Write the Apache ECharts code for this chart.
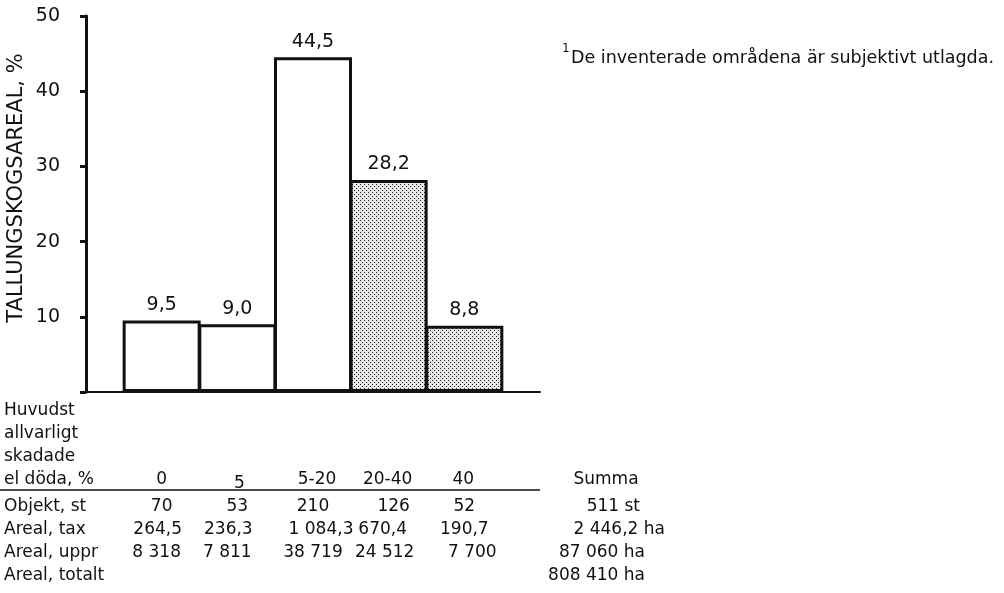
<!DOCTYPE html>
<html><head><meta charset="utf-8">
<script src="https://cdn.jsdelivr.net/npm/echarts/dist/echarts.min.js"></script>
<style>html,body{margin:0;padding:0;background:#fff}#c{width:1004px;height:593px}</style>
</head><body><div id="c"></div>
<script>
const categories = ['0', '5', '5-20', '20-40', '40'];
const shares = [9.5, 9.0, 44.5, 28.2, 8.8];
const shaded = [false, false, false, true, true];
const headerLines = ['Huvudst', 'allvarligt', 'skadade', 'el döda, %'];
const rowLabels = ['Objekt, st', 'Areal, tax', 'Areal, uppr', 'Areal, totalt'];
const objekt = ['70', '53', '210', '126', '52'];
const arealTax = ['264,5', '236,3', '1 084,3', '670,4', '190,7'];
const arealUppr = ['8 318', '7 811', '38 719', '24 512', '7 700'];
const summaTitle = 'Summa';
const summa = ['511 st', '2 446,2 ha', '87 060 ha', '808 410 ha'];
const yAxisTitle = 'TALLUNGSKOGSAREAL, %';
const footnoteMark = '1';
const footnote = 'De inventerade områdena är subjektivt utlagda.';

const FONT = 'DejaVu Sans';
const INK = '#111';

const pc = document.createElement('canvas');
pc.width = 4; pc.height = 4;
const g = pc.getContext('2d');
g.fillStyle = '#e8e8e8'; g.fillRect(0, 0, 4, 4);
g.fillStyle = '#1a1a1a'; g.fillRect(0, 0, 1, 1); g.fillRect(2, 2, 1, 1);
const patternFill = { image: pc, repeat: 'repeat' };

const chart = echarts.init(document.getElementById('c'));
chart.setOption({
  animation: false,
  backgroundColor: '#fff',
  grid: { left: 86, right: 464, top: 16, bottom: 201, containLabel: false },
  xAxis: {
    type: 'value', min: 0, max: categories.length + 1,
    axisLine: { show: true, lineStyle: { color: INK, width: 2 } },
    axisTick: { show: false }, axisLabel: { show: false }, splitLine: { show: false }
  },
  yAxis: {
    type: 'value', min: 0, max: 50, interval: 10,
    axisLine: { show: true, lineStyle: { color: INK, width: 3 } },
    axisTick: { show: true, inside: false, length: 6, lineStyle: { color: INK, width: 3 } },
    axisLabel: { margin: 26, color: INK, fontFamily: FONT, fontSize: 19, formatter: v => v === 0 ? '' : String(v) },
    splitLine: { show: false }
  },
  series: [{
    type: 'bar',
    barWidth: 78,
    data: shares.map((v, i) => ({
      value: [i + 1, v],
      itemStyle: { color: shaded[i] ? patternFill : '#fff', borderColor: INK, borderWidth: 3 }
    })),
    label: {
      show: true, position: 'top', distance: 6, color: INK, fontFamily: FONT, fontSize: 19,
      formatter: p => p.value[1].toFixed(1).replace('.', ',')
    }
  }]
});

const xs = categories.map((c, i) => chart.convertToPixel({ xAxisIndex: 0 }, i + 1));
const txt = (text, x, y, align, size, extra) => Object.assign({
  type: 'text', x: x, y: y,
  style: { text: text, fill: INK, font: (size || 17) + 'px "' + FONT + '"', textAlign: align || 'left', textVerticalAlign: 'middle' }
}, extra || {});

// column nudges (px) relative to bar centres, per table row
const headNudge = [0, 2, 4, -1, -1];
const objNudge = [0, 0, 0, 5, 0];
const taxNudge = [-4, -9, 8, -6, 0];
const upprNudge = [-5, -10, 0, -4, 8];

const gr = [];
gr.push(txt(yAxisTitle, 17, 188, 'center', 21, { rotation: Math.PI / 2 }));
gr.push(txt(footnoteMark, 562, 49, 'left', 12));
gr.push(txt(footnote, 571, 58, 'left', 17.5));
const rowY0 = 411, rowStep = 23;
headerLines.forEach((t, i) => gr.push(txt(t, 4, rowY0 + i * rowStep, 'left', 17)));
categories.forEach((c, i) => gr.push(txt(c, xs[i] + headNudge[i], rowY0 + 3 * rowStep + (c === '5' ? 4 : 0), 'center', 17)));
gr.push(txt(summaTitle, 606, rowY0 + 3 * rowStep, 'center', 17));
gr.push({ type: 'line', shape: { x1: 0, y1: 490, x2: 540, y2: 490 }, style: { stroke: INK, lineWidth: 1.5 } });
const dataY0 = 507;
rowLabels.forEach((t, i) => gr.push(txt(t, 4, dataY0 + i * rowStep, 'left', 17)));
[[objekt, objNudge], [arealTax, taxNudge], [arealUppr, upprNudge]].forEach(([row, nudge], r) =>
  row.forEach((v, i) => gr.push(txt(v, xs[i] + nudge[i], dataY0 + r * rowStep, 'center', 17))));
const summaRight = [640, 665, 645, 645];
summa.forEach((t, i) => gr.push(txt(t, summaRight[i], dataY0 + i * rowStep, 'right', 17)));
chart.setOption({ graphic: gr });
</script></body></html>
